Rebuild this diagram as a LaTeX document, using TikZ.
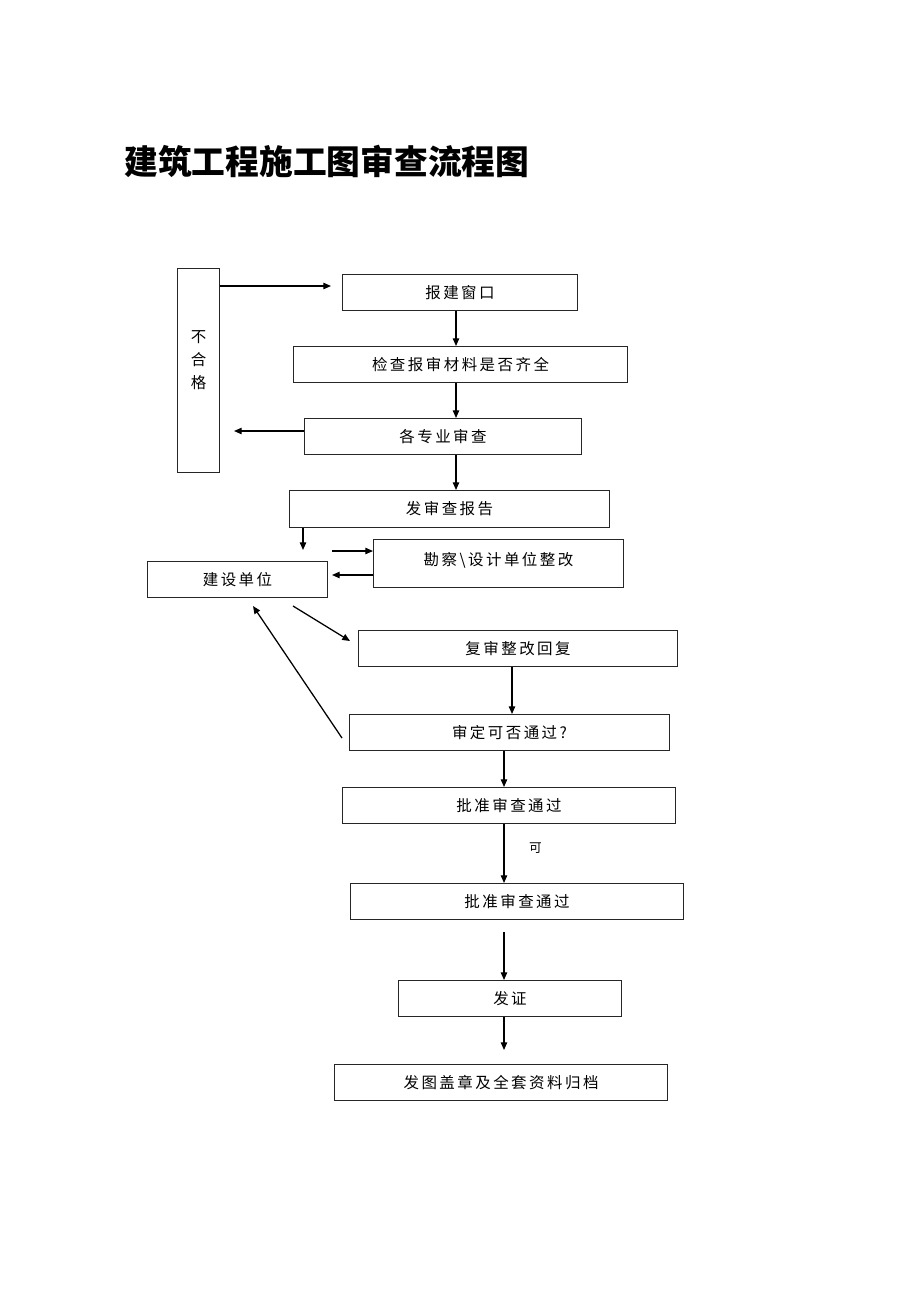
\documentclass[tikz,border=0pt]{standalone}
\usepackage{fontspec}
\usepackage{tikz}
\usetikzlibrary{arrows.meta,positioning}
\newfontfamily\cjk[LetterSpace=16]{Noto Sans CJK SC}
\newfontfamily\cjktitle{Noto Sans CJK SC}

\begin{document}
\begin{tikzpicture}[
  x=0.025cm, y=-0.025cm,
  box/.style={draw=black!85, line width=0.7pt, anchor=north west, inner sep=0pt,
              font=\cjk\fontsize{11pt}{13pt}\selectfont, align=center},
  arr/.style={line width=0.9pt, -{Triangle[length=5.5pt, width=4.6pt]}},
  titlefont/.style={font=\cjktitle\bfseries\fontsize{24pt}{28pt}\selectfont},
]
\useasboundingbox (0,0) rectangle (920,1302);

% --- Title ---
\node[titlefont, anchor=west, inner sep=0pt] (title) at (124,161)
  {建筑工程施工图审查流程图};

% --- Boxes ---
\node[box, minimum width=1.05cm, minimum height=5.1cm] (bhg) at (177,268)
  {不\\[3.5pt]合\\[3.5pt]格\\[3pt]};
\node[box, minimum width=5.875cm, minimum height=0.9cm] (bjck) at (342,274) {报建窗口};
\node[box, minimum width=8.35cm, minimum height=0.9cm] (jc) at (293,346) {检查报审材料是否齐全};
\node[box, minimum width=6.925cm, minimum height=0.9cm] (gzy) at (304,418) {各专业审查};
\node[box, minimum width=8cm, minimum height=0.925cm] (fbg) at (289,490) {发审查报告};
\node[box, minimum width=6.25cm, minimum height=1.2cm] (kc) at (373,539)
  {\raisebox{7pt}{勘察\textbackslash 设计单位整改}};
\node[box, minimum width=4.5cm, minimum height=0.9cm] (js) at (147,561) {建设单位};
\node[box, minimum width=7.975cm, minimum height=0.9cm] (fs) at (358,630) {复审整改回复};
\node[box, minimum width=8cm, minimum height=0.9cm] (sd) at (349,714) {审定可否通过?};
\node[box, minimum width=8.325cm, minimum height=0.9cm] (pz1) at (342,787) {批准审查通过};
\node[box, minimum width=8.325cm, minimum height=0.9cm] (pz2) at (350,883) {批准审查通过};
\node[box, minimum width=5.575cm, minimum height=0.9cm] (fz) at (398,980) {发证};
\node[box, minimum width=8.325cm, minimum height=0.9cm] (gd) at (334,1064) {发图盖章及全套资料归档};

% --- Free ends ---
\coordinate (bhgin) at (331,286);
\coordinate (bhgout) at (234,431);
\coordinate (jsin) at (303,550);
\coordinate (jsout) at (332,551);
\coordinate (jsback) at (332,575);
\coordinate (fsfrom) at (293,606);
\coordinate (fsto) at (350,641);
\coordinate (retfrom) at (342,738);
\coordinate (retto) at (253,606);
\coordinate (fzfrom) at (504,932);
\coordinate (gdto) at (504,1050);

% --- Connectors ---
\draw[arr] (bhg.east |- bhgin) -- (bhgin);
\draw[arr] (bjck.south -| 456,0) -- (jc.north -| 456,0);
\draw[arr] (jc.south -| 456,0) -- (gzy.north -| 456,0);
\draw[arr] (gzy.west |- bhgout) -- (bhgout);
\draw[arr] (gzy.south -| 456,0) -- (fbg.north -| 456,0);
\draw[arr] (fbg.south -| jsin) -- (jsin);
\draw[arr] (jsout) -- (jsout -| kc.west);
\draw[arr] (kc.west |- jsback) -- (jsback);
\draw[arr] (fsfrom) -- (fsto);
\draw[arr] (retfrom) -- (retto);
\draw[arr] (fs.south -| 512,0) -- (sd.north -| 512,0);
\draw[arr] (sd.south -| 504,0) -- (pz1.north -| 504,0);
\draw[arr] (pz1.south -| 504,0) -- node[right=14pt, font=\cjk\fontsize{9pt}{11pt}\selectfont, yshift=3.5pt] {可} (pz2.north -| 504,0);
\draw[arr] (fzfrom) -- (fz.north -| fzfrom);
\draw[arr] (fz.south -| gdto) -- (gdto);

\end{tikzpicture}
\end{document}
